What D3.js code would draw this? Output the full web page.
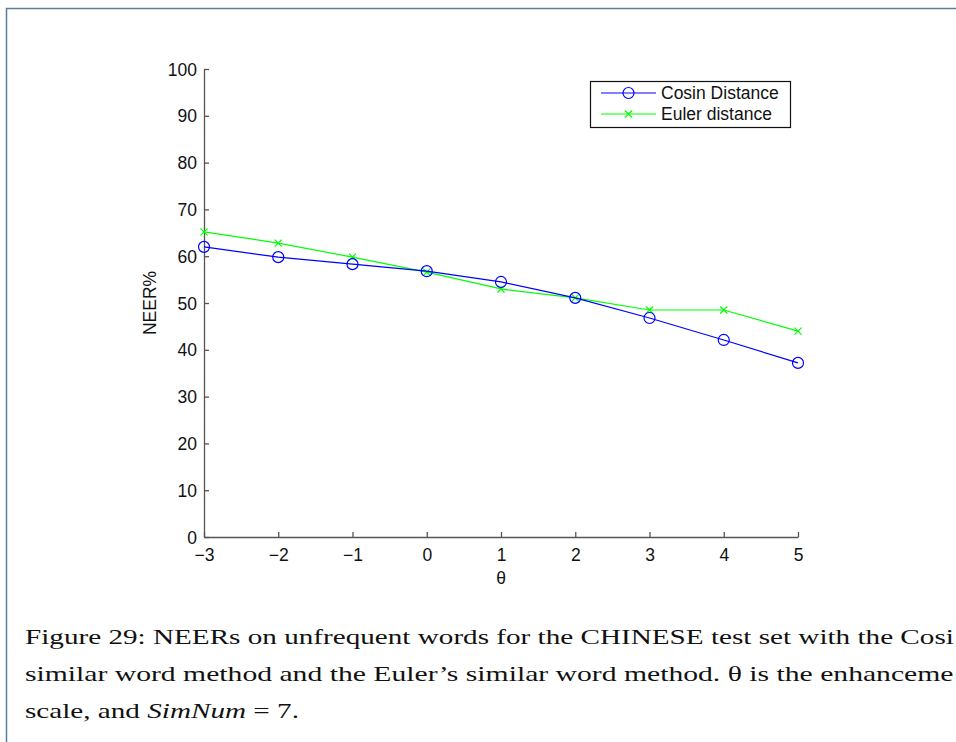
<!DOCTYPE html>
<html>
<head>
<meta charset="utf-8">
<script src="https://cdn.jsdelivr.net/npm/d3@7"></script>
<style>
  body { margin: 0; background: #fff; }
  svg { display: block; }
  .tick text { font-family: "Liberation Sans", Arial, sans-serif; font-size: 17.5px; fill: #111; }
</style>
</head>
<body>
<div id="chart"></div>
<script>
const theta = [-3, -2, -1, 0, 1, 2, 3, 4, 5];
const cosinValues = [62.0, 59.8, 58.3, 56.8, 54.5, 51.1, 46.8, 42.1, 37.2];
const eulerValues = [65.2, 62.8, 59.8, 56.6, 53.0, 51.1, 48.5, 48.5, 44.0];
const seriesNames = ["Cosin Distance", "Euler distance"];
const yTicks = [0, 10, 20, 30, 40, 50, 60, 70, 80, 90, 100];
// caption is cut by the page edge in the original, keep only what shows
const captionLines = [
  "Figure 29: NEERs on unfrequent words for the CHINESE test set with the Cosi",
  "similar word method and the Euler\u2019s similar word method. \u03b8 is the enhanceme",
  "scale, and SimNum = 7."
];

const width = 956, height = 742;
const margin = { top: 69, right: 158, bottom: 205, left: 204 };
const sans = "'Liberation Sans', Arial, sans-serif";

const svg = d3.select("#chart").append("svg")
  .attr("width", width)
  .attr("height", height);

// page frame
svg.append("path")
  .attr("d", `M6.5,${height} V8.5 H${width}`)
  .attr("fill", "none")
  .attr("stroke", "#5b7b9b")
  .attr("stroke-width", 1.5);

const x = d3.scaleLinear()
  .domain([-3, 5])
  .range([margin.left, width - margin.right]);

const y = d3.scaleLinear()
  .domain([0, 100])
  .range([height - margin.bottom, margin.top]);

const fmt = d => d < 0 ? "\u2212" + Math.abs(d) : String(d);

// axes (ticks point inside)
const xAxis = svg.append("g")
  .attr("transform", `translate(0, ${y(0)})`)
  .call(d3.axisBottom(x).tickValues(theta).tickFormat(fmt).tickSizeInner(-5).tickSizeOuter(0).tickPadding(12));
const yAxis = svg.append("g")
  .attr("transform", `translate(${x(-3)}, 0)`)
  .call(d3.axisLeft(y).tickValues(yTicks).tickSizeInner(-5).tickSizeOuter(0).tickPadding(7));

[xAxis, yAxis].forEach(g => {
  g.select(".domain").attr("stroke", "#555").attr("stroke-width", 1.3);
  g.selectAll(".tick line").attr("stroke", "#555").attr("stroke-width", 1.3);
});
yAxis.selectAll(".tick text").attr("dy", "0.35em");

// axis labels
svg.append("text")
  .attr("x", x(1))
  .attr("y", 584)
  .attr("text-anchor", "middle")
  .style("font-family", sans)
  .style("font-size", "17.5px")
  .attr("fill", "#111")
  .text("\u03b8");

svg.append("text")
  .attr("transform", `translate(156, ${y(50)}) rotate(-90)`)
  .attr("text-anchor", "middle")
  .style("font-family", sans)
  .style("font-size", "17.5px")
  .attr("fill", "#111")
  .text("NEER%");

const cosinData = theta.map((t, i) => ({ t, v: cosinValues[i] }));
const eulerData = theta.map((t, i) => ({ t, v: eulerValues[i] }));

const line = d3.line().x(d => x(d.t)).y(d => y(d.v));

function xMark(sel, r) {
  sel.append("path")
    .attr("d", `M${-r},${-r}L${r},${r}M${-r},${r}L${r},${-r}`)
    .attr("fill", "none")
    .attr("stroke", "#00ff00")
    .attr("stroke-width", 1.2);
}

// Euler series
svg.append("path")
  .datum(eulerData)
  .attr("fill", "none")
  .attr("stroke", "#00ff00")
  .attr("stroke-width", 1.2)
  .attr("d", line);
svg.selectAll(".euler-mark")
  .data(eulerData)
  .join("g")
  .attr("class", "euler-mark")
  .attr("transform", d => `translate(${x(d.t)}, ${y(d.v)})`)
  .call(xMark, 3.5);

// Cosin series
svg.append("path")
  .datum(cosinData)
  .attr("fill", "none")
  .attr("stroke", "#0000ff")
  .attr("stroke-width", 1.2)
  .attr("d", line);
svg.selectAll(".cosin-mark")
  .data(cosinData)
  .join("circle")
  .attr("class", "cosin-mark")
  .attr("cx", d => x(d.t))
  .attr("cy", d => y(d.v))
  .attr("r", 5.5)
  .attr("fill", "none")
  .attr("stroke", "#0000ff")
  .attr("stroke-width", 1.2);

// legend
const legend = svg.append("g").attr("transform", "translate(590, 81)");
legend.append("rect")
  .attr("x", 0.5).attr("y", 0.5)
  .attr("width", 200).attr("height", 46)
  .attr("fill", "#fff")
  .attr("stroke", "#111")
  .attr("stroke-width", 1.2);

const legendColors = ["#0000ff", "#00ff00"];
seriesNames.forEach((name, i) => {
  const row = legend.append("g").attr("transform", `translate(0, ${12 + i * 21})`);
  row.append("line")
    .attr("x1", 11).attr("x2", 66)
    .attr("stroke", legendColors[i])
    .attr("stroke-width", 1.2);
  if (i === 0) {
    row.append("circle").attr("cx", 38.5).attr("r", 5.5)
      .attr("fill", "none").attr("stroke", legendColors[i]).attr("stroke-width", 1.2);
  } else {
    row.append("g").attr("transform", "translate(38.5, 0)").call(xMark, 3.5);
  }
  row.append("text")
    .attr("x", 71)
    .attr("dy", "0.35em")
    .style("font-family", sans)
    .style("font-size", "17.5px")
    .attr("fill", "#111")
    .text(name);
});

// caption
const caption = svg.append("g")
  .style("font-family", "'Liberation Serif', 'DejaVu Serif', serif")
  .style("font-size", "21px")
  .attr("fill", "#111");

const captionY = [644, 681, 718];
const captionTexts = captionLines.map((txt, i) => {
  const t = caption.append("text")
    .attr("x", 25)
    .attr("y", captionY[i]);
  if (i === 2) {
    t.append("tspan").text("scale, and ");
    t.append("tspan").style("font-style", "italic").text("SimNum");
    t.append("tspan").text(" = 7.");
  } else {
    t.text(txt);
  }
  return t;
});
// justified lines run up to the page edge; last line keeps the first line's stretch
const scales = captionTexts.slice(0, 2).map(t => (954 - 25) / t.node().getComputedTextLength());
scales.push(scales[0]);
captionTexts.forEach((t, i) => {
  t.attr("transform", `translate(25,0) scale(${scales[i]},1) translate(-25,0)`);
});
</script>
</body>
</html>
